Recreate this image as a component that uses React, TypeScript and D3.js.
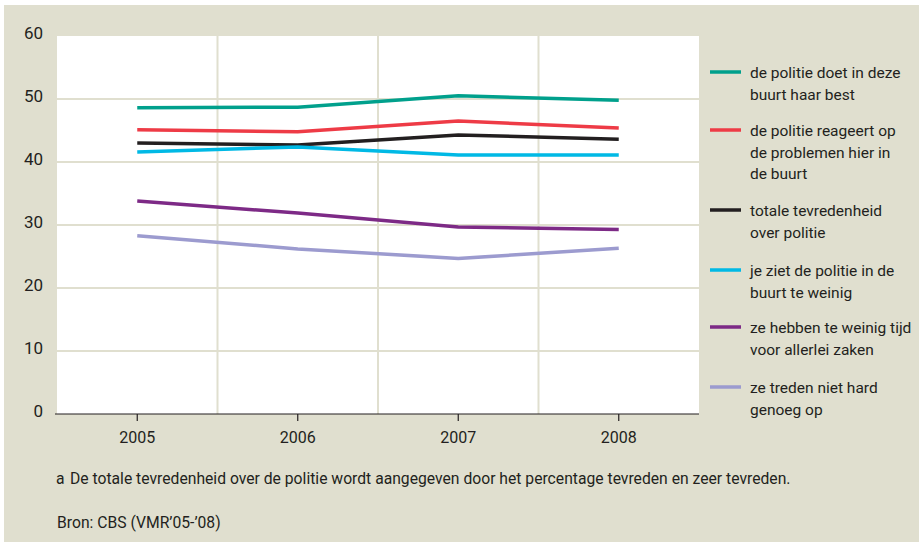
import { useEffect, useRef } from "react";
import * as d3 from "d3";

const years = ["2005", "2006", "2007", "2008"];

const seriesNames = [
  "de politie doet in deze buurt haar best",
  "de politie reageert op de problemen hier in de buurt",
  "totale tevredenheid over politie",
  "je ziet de politie in de buurt te weinig",
  "ze hebben te weinig tijd voor allerlei zaken",
  "ze treden niet hard genoeg op",
];

// legend text as it wraps in the original
const legendLines = [
  ["de politie doet in deze", "buurt haar best"],
  ["de politie reageert op", "de problemen hier in", "de buurt"],
  ["totale tevredenheid", "over politie"],
  ["je ziet de politie in de", "buurt te weinig"],
  ["ze hebben te weinig tijd", "voor allerlei zaken"],
  ["ze treden niet hard", "genoeg op"],
];

const doetBest = [48.6, 48.7, 50.5, 49.8];
const reageert = [45.1, 44.8, 46.5, 45.4];
const totaal = [43.0, 42.7, 44.3, 43.6];
const zietWeinig = [41.6, 42.4, 41.1, 41.1];
const weinigTijd = [33.8, 31.9, 29.7, 29.3];
const nietHard = [28.3, 26.2, 24.7, 26.3];

const seriesValues = [doetBest, reageert, totaal, zietWeinig, weinigTijd, nietHard];
const seriesColors = ["#00a08c", "#ee3b46", "#231f20", "#00b9e5", "#7d2a86", "#9c9bcf"];

const yTicks = [0, 10, 20, 30, 40, 50, 60];

const footnote = "De totale tevredenheid over de politie wordt aangegeven door het percentage tevreden en zeer tevreden.";
const source = "Bron: CBS (VMR\u201905-\u201908)";

const BEIGE = "#e0dfcf";
const FONT = "'Liberation Sans Narrow', 'Roboto', sans-serif";

export default function App() {
  const svgRef = useRef<SVGSVGElement>(null);

  useEffect(() => {
    const svg = d3.select(svgRef.current);
    svg.selectAll("*").remove();
    const width = 919;
    const height = 542;
    const plot = { left: 57, right: 699, top: 36, bottom: 414 };

    svg.attr("width", width).attr("height", height).style("font-family", FONT);

    svg
      .append("rect")
      .attr("x", 4)
      .attr("y", 5)
      .attr("width", width - 4)
      .attr("height", height - 5)
      .attr("fill", BEIGE);

    svg
      .append("rect")
      .attr("x", plot.left)
      .attr("y", plot.top)
      .attr("width", plot.right - plot.left)
      .attr("height", plot.bottom - plot.top)
      .attr("fill", "#fff");

    const xScale = d3.scaleBand().domain(years).range([plot.left, plot.right]);
    const yScale = d3.scaleLinear().domain([0, 60]).range([plot.bottom, plot.top]);
    const xc = (y: string) => (xScale(y) as number) + xScale.bandwidth() / 2;

    // gridlines
    const grid = svg.append("g").attr("stroke", BEIGE).attr("stroke-width", 2);
    yTicks
      .filter((t) => t > 0 && t < 60)
      .forEach((t) => {
        grid
          .append("line")
          .attr("x1", plot.left)
          .attr("x2", plot.right)
          .attr("y1", yScale(t))
          .attr("y2", yScale(t));
      });
    years.slice(1).forEach((y) => {
      grid
        .append("line")
        .attr("x1", xScale(y) as number)
        .attr("x2", xScale(y) as number)
        .attr("y1", plot.top)
        .attr("y2", plot.bottom);
    });

    // y labels
    svg
      .append("g")
      .selectAll("text")
      .data(yTicks)
      .enter()
      .append("text")
      .attr("x", 43)
      .attr("y", (d) => yScale(d) + 3)
      .attr("text-anchor", "end")
      .attr("font-size", 17)
      .attr("fill", "#231f20")
      .text((d) => d);

    // x axis
    svg
      .append("line")
      .attr("x1", plot.left - 2)
      .attr("x2", plot.right)
      .attr("y1", plot.bottom)
      .attr("y2", plot.bottom)
      .attr("stroke", "#231f20")
      .attr("stroke-width", 1.2);
    years.forEach((y) => {
      svg
        .append("line")
        .attr("x1", xc(y))
        .attr("x2", xc(y))
        .attr("y1", plot.bottom)
        .attr("y2", plot.bottom + 7)
        .attr("stroke", "#231f20")
        .attr("stroke-width", 1.2);
      svg
        .append("text")
        .attr("x", xc(y))
        .attr("y", 443)
        .attr("text-anchor", "middle")
        .attr("font-size", 16)
        .attr("fill", "#231f20")
        .text(y);
    });

    // lines
    const line = d3
      .line<number>()
      .x((_, i) => xc(years[i]))
      .y((d) => yScale(d));
    seriesValues.forEach((vals, i) => {
      svg
        .append("path")
        .datum(vals)
        .attr("d", line)
        .attr("fill", "none")
        .attr("stroke", seriesColors[i])
        .attr("stroke-width", 3.5)
        .append("title")
        .text(seriesNames[i]);
    });

    // legend
    const legendY = [72, 130, 210, 270, 327, 387];
    legendLines.forEach((lines, i) => {
      const g = svg.append("g").attr("transform", `translate(710, ${legendY[i]})`);
      g.append("line")
        .attr("x1", 0)
        .attr("x2", 31)
        .attr("y1", 0)
        .attr("y2", 0)
        .attr("stroke", seriesColors[i])
        .attr("stroke-width", 3.5);
      lines.forEach((l, j) => {
        g.append("text")
          .attr("x", 40)
          .attr("y", 6 + j * 21.5)
          .attr("font-size", 15.5)
          .attr("fill", "#231f20")
          .text(l);
      });
    });

    // footnote and source
    svg
      .append("text")
      .attr("x", 56)
      .attr("y", 484)
      .attr("font-size", 15.7)
      .attr("fill", "#231f20")
      .text("a");
    svg
      .append("text")
      .attr("x", 70)
      .attr("y", 484)
      .attr("font-size", 15.7)
      .attr("fill", "#231f20")
      .text(footnote);
    svg
      .append("text")
      .attr("x", 57)
      .attr("y", 528)
      .attr("font-size", 15.7)
      .attr("fill", "#231f20")
      .text(source);
  }, []);

  return (
    <svg
      ref={svgRef}
      style={{ position: "absolute", left: 0, top: 0, display: "block" }}
    ></svg>
  );
}
